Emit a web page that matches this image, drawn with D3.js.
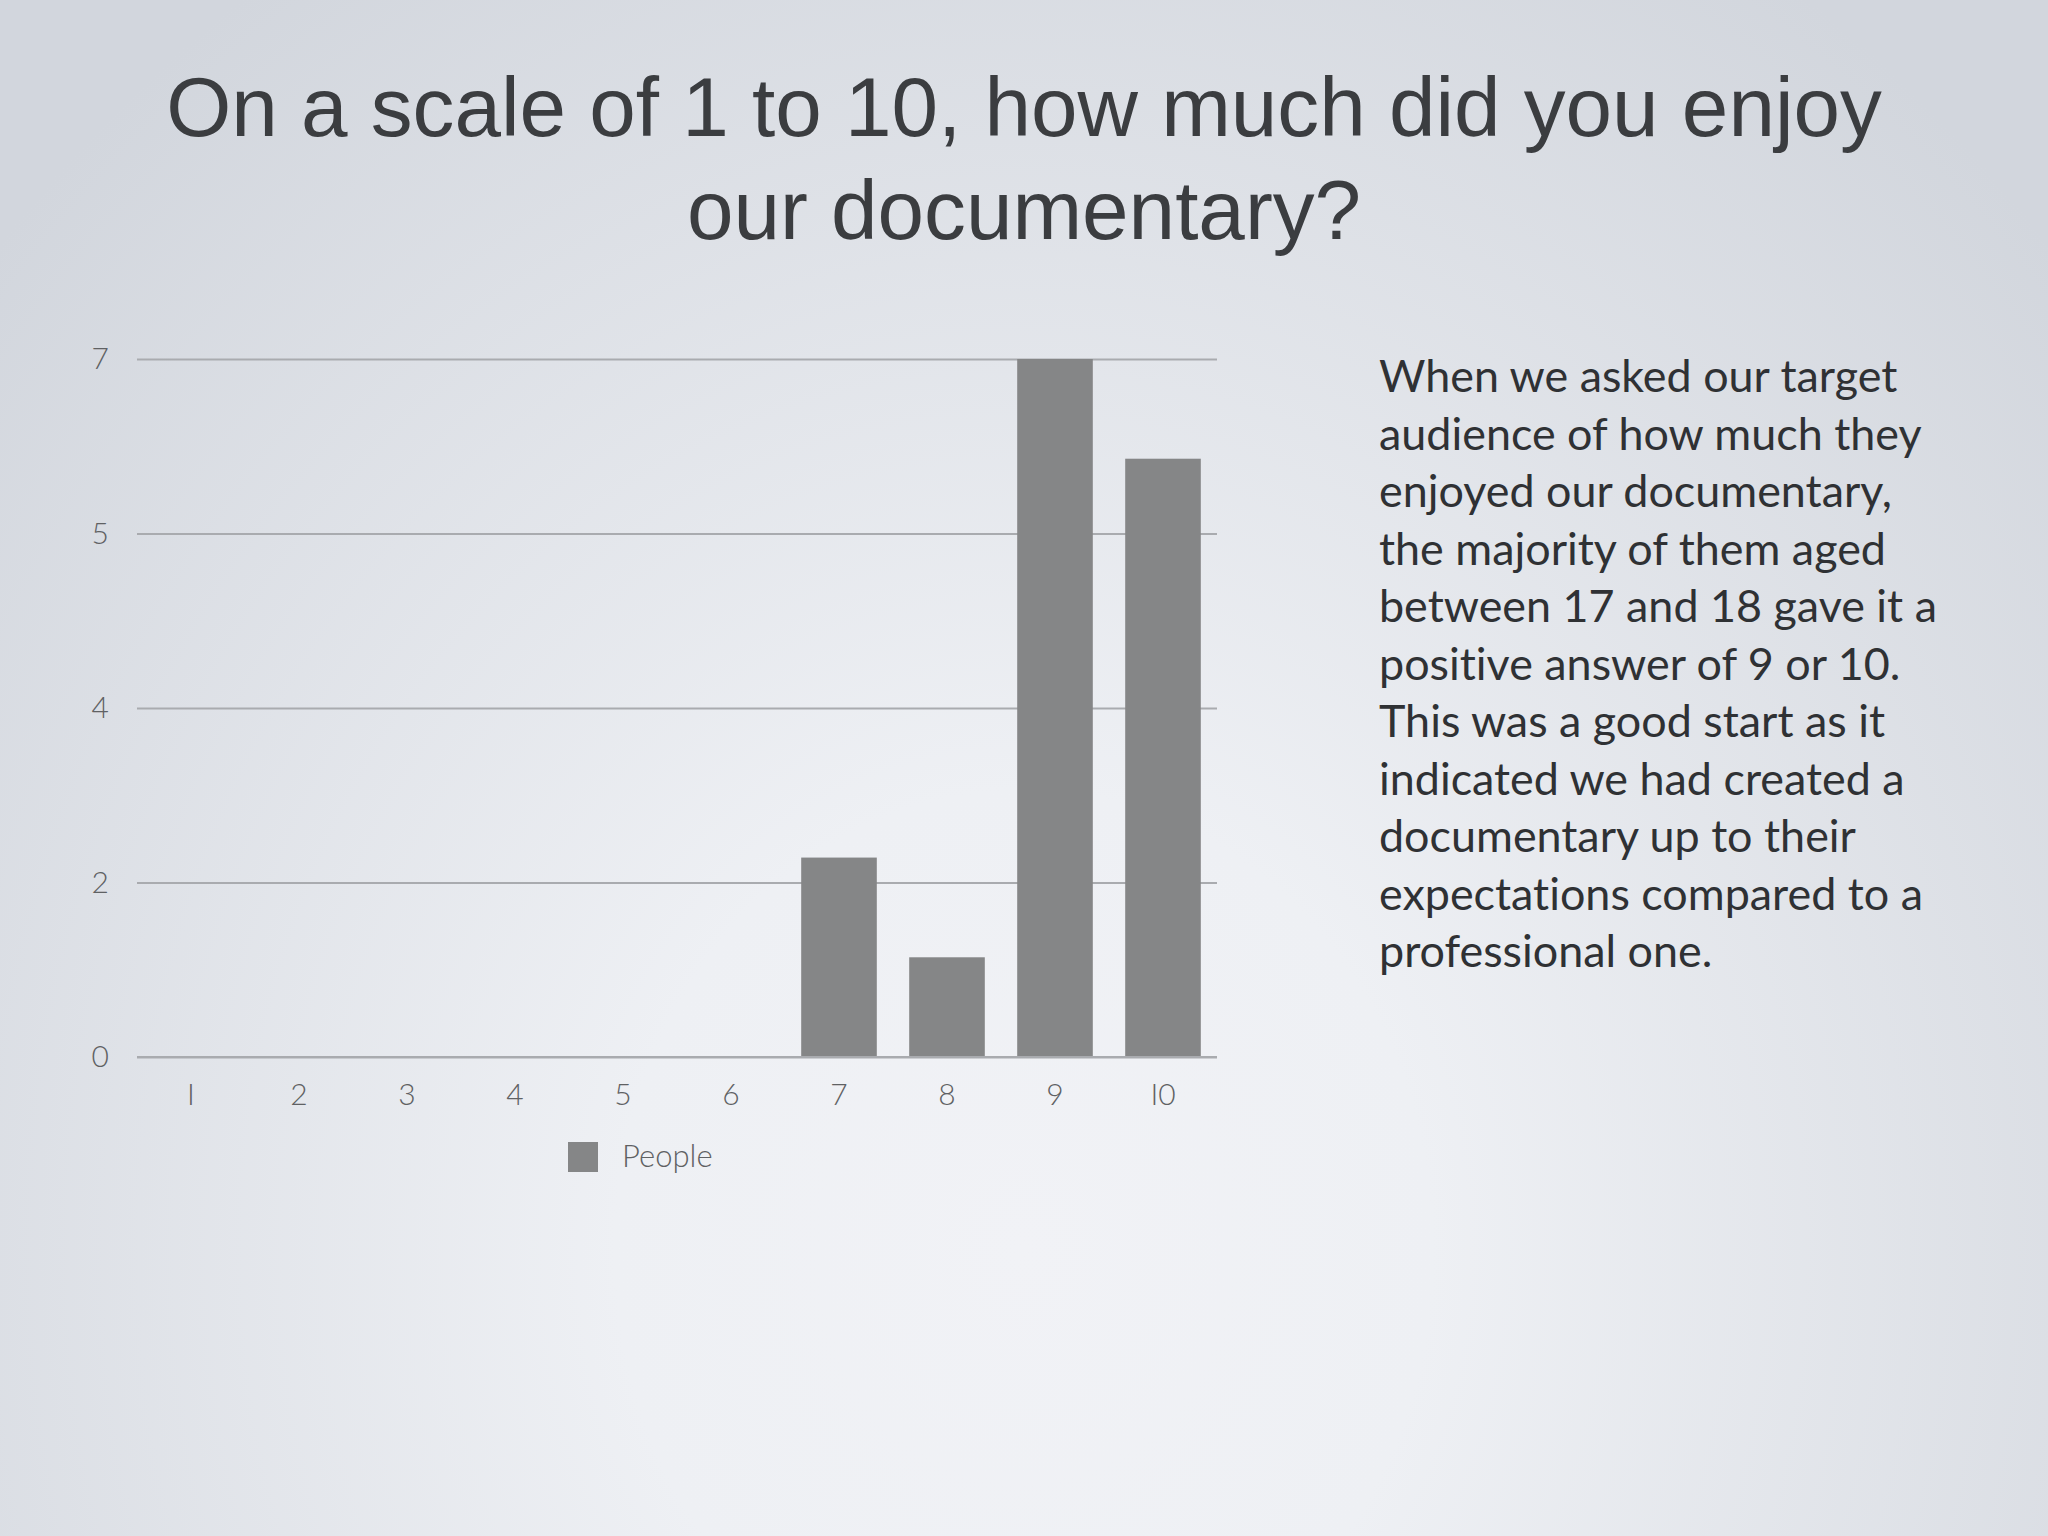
<!DOCTYPE html>
<html>
<head>
<meta charset="utf-8">
<script src="https://cdn.jsdelivr.net/npm/d3@7/dist/d3.min.js"></script>
<style>
  html, body { margin: 0; padding: 0; }
  body { width: 2048px; height: 1536px; overflow: hidden; }
  text { font-variant-ligatures: none; font-feature-settings: "liga" 0, "clig" 0, "dlig" 0, "calt" 0; }
</style>
</head>
<body>
<svg id="chart" width="2048" height="1536"></svg>
<script>
// ---- data ----
const titleLines = ["On a scale of 1 to 10, how much did you enjoy", "our documentary?"];
const categories = ["1", "2", "3", "4", "5", "6", "7", "8", "9", "10"];
const categoryLabels = ["I", "2", "3", "4", "5", "6", "7", "8", "9", "I0"];
const peopleValues = [0, 0, 0, 0, 0, 0, 2, 1, 7, 6];
const yTickValues = [0, 1.75, 3.5, 5.25, 7];
const yTickLabels = ["0", "2", "4", "5", "7"];
const seriesName = "People";
const paragraphLines = [
  "When we asked our target",
  "audience of how much they",
  "enjoyed our documentary,",
  "the majority of them aged",
  "between 17 and 18 gave it a",
  "positive answer of 9 or 10.",
  "This was a good start as it",
  "indicated we had created a",
  "documentary up to their",
  "expectations compared to a",
  "professional one."
];

// ---- drawing ----
const svg = d3.select("#chart");
const defs = svg.append("defs");
const grad = defs.append("radialGradient")
  .attr("id", "bg").attr("gradientUnits", "userSpaceOnUse")
  .attr("cx", 1024).attr("cy", 1250).attr("r", 1700)
  .attr("gradientTransform", "translate(1024 1250) scale(0.8 0.9) translate(-1024 -1250)");
grad.append("stop").attr("offset", "0").attr("stop-color", "#f1f2f6");
grad.append("stop").attr("offset", "0.3").attr("stop-color", "#eef0f4");
grad.append("stop").attr("offset", "1").attr("stop-color", "#d2d6dd");
svg.append("rect").attr("width", 2048).attr("height", 1536).attr("fill", "url(#bg)");

// title
const titleFont = "'Liberation Sans', Arial, Helvetica, sans-serif";
const title = svg.append("g");
const t1 = title.append("text")
  .attr("x", 1024).attr("y", 136)
  .attr("text-anchor", "middle")
  .attr("font-family", titleFont).attr("font-size", 86)
  .attr("fill", "#3b3d40")
  .text(titleLines[0]);
const w1 = t1.node().getComputedTextLength();
const titleSize = 86 * 1716 / w1;
t1.attr("font-size", titleSize);
title.append("text")
  .attr("x", 1024).attr("y", 239)
  .attr("text-anchor", "middle")
  .attr("font-family", titleFont).attr("font-size", titleSize)
  .attr("fill", "#3b3d40")
  .text(titleLines[1]);

// chart
const x = d3.scaleBand().domain(categories).range([137, 1217])
  .paddingInner(0.3).paddingOuter(0.15);
const y = d3.scaleLinear().domain([0, 7]).range([1057, 359]);

const labelFont = "Lato, 'Open Sans', 'DejaVu Sans', sans-serif";

// gridlines + y axis labels
const yAxis = d3.axisLeft(y)
  .tickValues(yTickValues)
  .tickSize(-(1217 - 137))
  .tickPadding(28)
  .tickFormat((d, i) => yTickLabels[i]);
const yg = svg.append("g").attr("transform", "translate(137,0)").call(yAxis);
yg.select(".domain").remove();
yg.selectAll(".tick line").attr("stroke", "#a9abaf").attr("stroke-width", 2);
yg.selectAll(".tick text")
  .attr("font-family", labelFont).attr("font-weight", 300)
  .attr("font-size", 30).attr("fill", "#5f6163");

// bars
svg.append("g").selectAll("rect")
  .data(peopleValues)
  .join("rect")
  .attr("x", (d, i) => x(categories[i]))
  .attr("width", x.bandwidth())
  .attr("y", d => y(d))
  .attr("height", d => y(0) - y(d))
  .attr("fill", "#858687");

svg.append("line")
  .attr("x1", 137).attr("x2", 1217)
  .attr("y1", y(0)).attr("y2", y(0))
  .attr("stroke", "#a9abaf").attr("stroke-width", 2);

// x axis labels
const xAxis = d3.axisBottom(x).tickSize(0).tickPadding(27)
  .tickFormat((d, i) => categoryLabels[i]);
const xg = svg.append("g").attr("transform", `translate(0,${y(0)})`).call(xAxis);
xg.select(".domain").remove();
xg.selectAll(".tick text")
  .attr("font-family", labelFont).attr("font-weight", 300)
  .attr("font-size", 30).attr("fill", "#5f6163");

// legend
const legend = svg.append("g");
legend.append("rect")
  .attr("x", 568).attr("y", 1142).attr("width", 30).attr("height", 30)
  .attr("fill", "#858687");
legend.append("text")
  .attr("x", 622).attr("y", 1167)
  .attr("font-family", labelFont).attr("font-weight", 300)
  .attr("font-size", 31).attr("fill", "#5f6163")
  .text(seriesName);

// paragraph
const paraFont = "Lato, 'Open Sans', 'DejaVu Sans', sans-serif";
const para = svg.append("g");
const probe = para.append("text")
  .attr("font-family", paraFont).attr("font-size", 40)
  .text(paragraphLines[9]);
const pw = probe.node().getComputedTextLength();
probe.remove();
const paraSize = 40 * 544 / pw;
para.selectAll("text")
  .data(paragraphLines)
  .join("text")
  .attr("x", 1379)
  .attr("y", (d, i) => 392 + i * 57.5)
  .attr("font-family", paraFont).attr("font-size", paraSize)
  .attr("fill", "#2f3134")
  .text(d => d);
</script>
</body>
</html>
